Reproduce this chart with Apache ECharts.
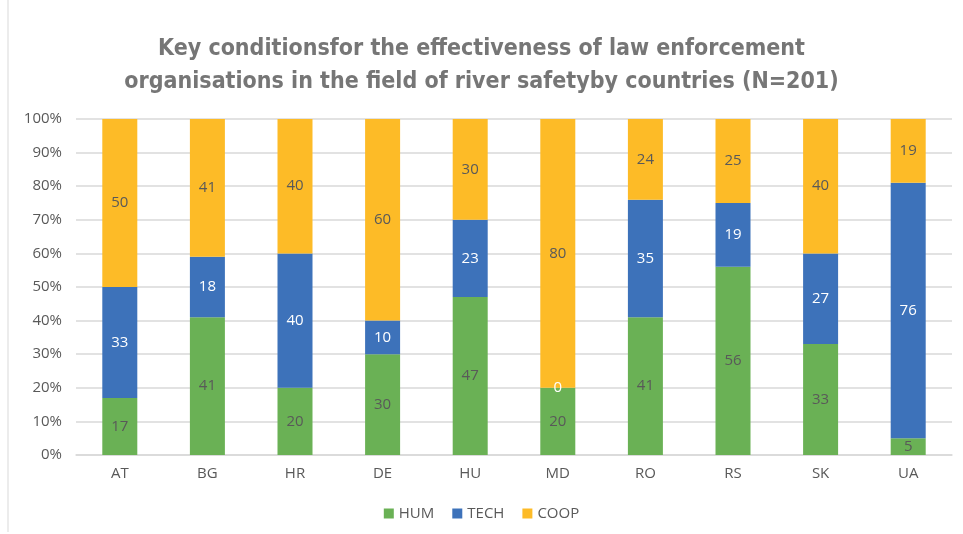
<!DOCTYPE html>
<html>
<head>
<meta charset="utf-8">
<script src="https://cdn.jsdelivr.net/npm/echarts@6/dist/echarts.min.js"></script>
<style>
  html, body { margin: 0; padding: 0; background: #fff; }
  #chart { width: 963px; height: 534px; }
</style>
</head>
<body>
<div id="chart"></div>
<script>
const countries = ['AT', 'BG', 'HR', 'DE', 'HU', 'MD', 'RO', 'RS', 'SK', 'UA'];
const hum = [17, 41, 20, 30, 47, 20, 41, 56, 33, 5];
const tech = [33, 18, 40, 10, 23, 0, 35, 19, 27, 76];
const coop = [50, 41, 40, 60, 30, 80, 24, 25, 40, 19];

const chart = echarts.init(document.getElementById('chart'));

const makeSeries = (name, values, color, labelColor) => ({
  name: name,
  type: 'bar',
  stack: 'total',
  barWidth: 35,
  data: values,
  itemStyle: { color: color },
  label: {
    show: true,
    position: 'inside',
    color: labelColor,
    fontSize: 15,
    fontFamily: 'Open Sans',
  },
});

const option = {
  animation: false,
  title: {
    text: 'Key conditionsfor the effectiveness of law enforcement\norganisations in the field of river safetyby countries (N=201)',
    left: 'center',
    top: 28,
    textStyle: {
      fontFamily: 'DejaVu Sans Condensed',
      fontWeight: 'bold',
      fontSize: 23,
      lineHeight: 33,
      color: '#767676',
    },
  },
  legend: {
    bottom: 8,
    left: 'center',
    itemWidth: 10,
    itemHeight: 10,
    itemGap: 18,
    icon: 'rect',
    textStyle: { fontSize: 15, color: '#595959', fontFamily: 'Open Sans' },
  },
  // thin frame line at the left edge of the chart area
  graphic: [{
    type: 'line',
    shape: { x1: 8, y1: 0, x2: 8, y2: 532 },
    style: { stroke: '#d9d9d9', lineWidth: 1 },
  }],
  grid: { left: 76, right: 11, top: 119, bottom: 79 },
  xAxis: {
    type: 'category',
    data: countries,
    axisLine: { lineStyle: { color: '#d9d9d9', width: 1.5 } },
    axisTick: { show: false },
    axisLabel: { color: '#595959', fontSize: 15, fontFamily: 'Open Sans', margin: 11 },
  },
  yAxis: {
    type: 'value',
    min: 0,
    max: 100,
    interval: 10,
    axisLine: { show: false },
    axisTick: { show: false },
    axisLabel: { color: '#595959', fontSize: 15, fontFamily: 'Open Sans', formatter: '{value}%', margin: 14 },
    splitLine: { lineStyle: { color: '#d9d9d9', width: 1.5 } },
  },
  series: [
    makeSeries('HUM', hum, '#6ab155', '#595959'),
    makeSeries('TECH', tech, '#3d72ba', '#ffffff'),
    makeSeries('COOP', coop, '#fdbb27', '#595959'),
  ],
};

chart.setOption(option);
</script>
</body>
</html>
